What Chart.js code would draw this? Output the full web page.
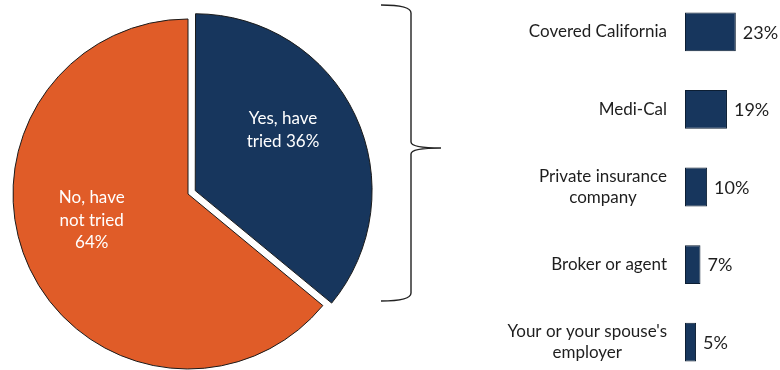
<!DOCTYPE html>
<html>
<head>
<meta charset="utf-8">
<script src="https://cdn.jsdelivr.net/npm/chart.js@4"></script>
<style>
  html, body { margin: 0; padding: 0; background: #fff; overflow: hidden; }
  body { width: 780px; height: 370px; position: relative; }
  #pieBox { position: absolute; left: 0; top: 0; width: 450px; height: 370px; }
  #barBox { position: absolute; left: 450px; top: -7px; width: 330px; height: 388px; }
</style>
</head>
<body>
<div id="pieBox"><canvas id="pieChart"></canvas></div>
<div id="barBox"><canvas id="barChart"></canvas></div>
<script>
// pie: have you tried to get coverage
const pieLabels = [['Yes, have', 'tried 36%'], ['No, have', 'not tried', '64%']];
const pieValues = [36, 64];
const pieColors = ['#17365d', '#e05c28'];

// bar: where did you try
const barLabels = ['Covered California', 'Medi-Cal', ['Private insurance', 'company'], 'Broker or agent', ["Your or your spouse's", 'employer']];
const barValues = [23, 19, 10, 7, 5];

const fontFamily = 'Lato, "Liberation Sans", sans-serif';
const textColor = '#1e1e1e';

// how far the "yes" slice is pulled out, in px (Chart.js moves arcs by offset / 4)
const slicePull = [8, 0];
// label placement inside each slice: [angle shift (rad), fraction of radius]
const sliceLabelPlace = [[-0.166, 0.61], [0.175, 0.57]];

const pieLabelPlugin = {
    id: 'pieLabelPlugin',
    afterDatasetsDraw(chart) {
        const ctx = chart.ctx;
        const meta = chart.getDatasetMeta(0);
        ctx.save();
        ctx.font = '17px ' + fontFamily;
        ctx.fillStyle = '#ffffff';
        ctx.textAlign = 'center';
        ctx.textBaseline = 'middle';
        meta.data.forEach((arc, i) => {
            const p = arc.getProps(['x', 'y', 'startAngle', 'endAngle', 'outerRadius']);
            const mid = (p.startAngle + p.endAngle) / 2;
            const cx = p.x + Math.cos(mid) * slicePull[i];
            const cy = p.y + Math.sin(mid) * slicePull[i];
            const a = mid + sliceLabelPlace[i][0];
            const r = p.outerRadius * sliceLabelPlace[i][1];
            const lx = cx + Math.cos(a) * r;
            const ly = cy + Math.sin(a) * r;
            const lines = pieLabels[i];
            const lh = 22.5;
            lines.forEach((line, j) => {
                ctx.fillText(line, lx, ly + (j - (lines.length - 1) / 2) * lh);
            });
        });
        ctx.restore();
    }
};

// curly brace linking the "yes" slice to the breakdown
const bracePlugin = {
    id: 'bracePlugin',
    afterDraw(chart) {
        const ctx = chart.ctx;
        const x0 = 381, xv = 411, xt = 441;
        const top = 5, bot = 301, tip = 148;
        ctx.save();
        ctx.strokeStyle = '#222';
        ctx.lineWidth = 1.4;
        ctx.beginPath();
        ctx.moveTo(x0, top);
        ctx.quadraticCurveTo(xv, top, xv, top + 8);
        ctx.lineTo(xv, tip - 6);
        ctx.quadraticCurveTo(xv, tip, xt, tip);
        ctx.quadraticCurveTo(xv, tip, xv, tip + 6);
        ctx.lineTo(xv, bot - 8);
        ctx.quadraticCurveTo(xv, bot, x0, bot);
        ctx.stroke();
        ctx.restore();
    }
};

new Chart(document.getElementById('pieChart').getContext('2d'), {
    type: 'pie',
    data: {
        labels: pieLabels.map(l => l.join(' ')),
        datasets: [{
            data: pieValues,
            backgroundColor: pieColors,
            borderColor: '#1a1a1a',
            borderWidth: 1,
            offset: slicePull.map(v => v * 4),
            radius: 175
        }]
    },
    options: {
        responsive: true,
        maintainAspectRatio: false,
        animation: false,
        events: [],
        layout: { padding: { top: 18, bottom: 0, left: 0, right: 74 } },
        plugins: {
            legend: { display: false },
            tooltip: { enabled: false }
        }
    },
    plugins: [pieLabelPlugin, bracePlugin]
});

// draws category names (multi-line ones centered on themselves) and value labels
const barTextPlugin = {
    id: 'barTextPlugin',
    afterDraw(chart) {
        const ctx = chart.ctx;
        const yScale = chart.scales.y;
        const meta = chart.getDatasetMeta(0);
        ctx.save();
        ctx.font = '17px ' + fontFamily;
        ctx.fillStyle = textColor;
        ctx.textBaseline = 'middle';
        const right = yScale.right - 18;
        const lh = 21;
        barLabels.forEach((label, i) => {
            const lines = Array.isArray(label) ? label : [label];
            const w = Math.max(...lines.map(t => ctx.measureText(t).width));
            const yc = yScale.getPixelForTick(i);
            ctx.textAlign = 'center';
            lines.forEach((line, j) => {
                ctx.fillText(line, right - w / 2, yc + (j - (lines.length - 1) / 2) * lh);
            });
        });
        ctx.textAlign = 'left';
        ctx.font = '18px ' + fontFamily;
        meta.data.forEach((bar, i) => {
            ctx.fillText(barValues[i] + '%', bar.x + 7, bar.y + 1);
        });
        ctx.restore();
    }
};

new Chart(document.getElementById('barChart').getContext('2d'), {
    type: 'bar',
    data: {
        labels: barLabels,
        datasets: [{
            data: barValues,
            backgroundColor: '#17365d',
            borderColor: '#0c1e33',
            borderWidth: 1,
            borderSkipped: false,
            categoryPercentage: 1,
            barPercentage: 0.5
        }]
    },
    options: {
        indexAxis: 'y',
        responsive: true,
        maintainAspectRatio: false,
        animation: false,
        events: [],
        layout: { padding: 0 },
        scales: {
            x: { display: false, min: 0, max: 43 },
            y: {
                grid: { display: false },
                border: { display: false },
                ticks: { display: false },
                afterFit(scale) { scale.width = 235; }
            }
        },
        plugins: {
            legend: { display: false },
            tooltip: { enabled: false }
        }
    },
    plugins: [barTextPlugin]
});
</script>
</body>
</html>
